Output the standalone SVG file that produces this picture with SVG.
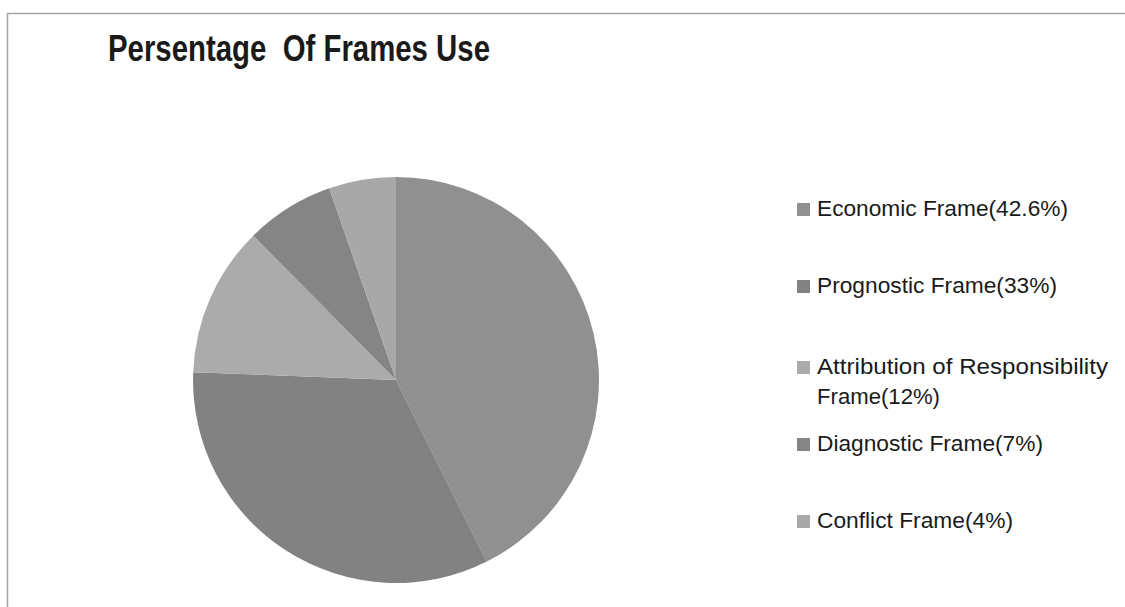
<svg xmlns="http://www.w3.org/2000/svg" width="1125" height="607" viewBox="0 0 1125 607">
<style>
.title{font-family:"Liberation Sans",Arial,sans-serif;font-weight:bold;font-size:37px;fill:#1a1a1a;white-space:pre}
.leg{font-family:"Liberation Sans",Arial,sans-serif;font-size:22.5px;fill:#1a1a1a}
.frame{fill:none;stroke:#a3a3a3;stroke-width:1.5}
.econ{fill:#909090}
.prog{fill:#828282}
.attr{fill:#ababab}
.diag{fill:#858585}
.conf{fill:#a8a8a8}
</style>
<rect width="1125" height="607" fill="#ffffff"/>
<path class="frame" d="M7.5,607 L7.5,13.5 L1125,13.5"/>
<text class="title" x="108" y="61" textLength="382" lengthAdjust="spacingAndGlyphs" xml:space="preserve">Persentage  Of Frames Use</text>
<g id="pie">
<path id="slice-economic" class="econ" d="M396,380 L396,177 A203,203 0 0 1 486.9,561.5 Z"/>
<path id="slice-prognostic" class="prog" d="M396,380 L486.9,561.5 A203,203 0 0 1 193.2,372.2 Z"/>
<path id="slice-attribution" class="attr" d="M396,380 L193.2,372.2 A203,203 0 0 1 253.2,235.7 Z"/>
<path id="slice-diagnostic" class="diag" d="M396,380 L253.2,235.7 A203,203 0 0 1 329.2,188.3 Z"/>
<path id="slice-conflict" class="conf" d="M396,380 L329.2,188.3 A203,203 0 0 1 396,177 Z"/>
</g>
<g id="legend">
<g id="leg-economic"><rect class="econ" x="797" y="203" width="13" height="13"/><text class="leg" x="817" y="216" textLength="251" lengthAdjust="spacingAndGlyphs">Economic Frame(42.6%)</text></g>
<g id="leg-prognostic"><rect class="prog" x="797" y="280" width="13" height="13"/><text class="leg" x="817" y="293" textLength="240" lengthAdjust="spacingAndGlyphs">Prognostic Frame(33%)</text></g>
<g id="leg-attribution"><rect class="attr" x="797" y="361" width="13" height="13"/><text class="leg" x="817" y="374" textLength="291" lengthAdjust="spacingAndGlyphs">Attribution of Responsibility</text><text class="leg" x="817" y="404" textLength="123" lengthAdjust="spacingAndGlyphs">Frame(12%)</text></g>
<g id="leg-diagnostic"><rect class="diag" x="797" y="438" width="13" height="13"/><text class="leg" x="817" y="451" textLength="226" lengthAdjust="spacingAndGlyphs">Diagnostic Frame(7%)</text></g>
<g id="leg-conflict"><rect class="conf" x="797" y="515" width="13" height="13"/><text class="leg" x="817" y="528" textLength="196" lengthAdjust="spacingAndGlyphs">Conflict Frame(4%)</text></g>
</g>
</svg>
